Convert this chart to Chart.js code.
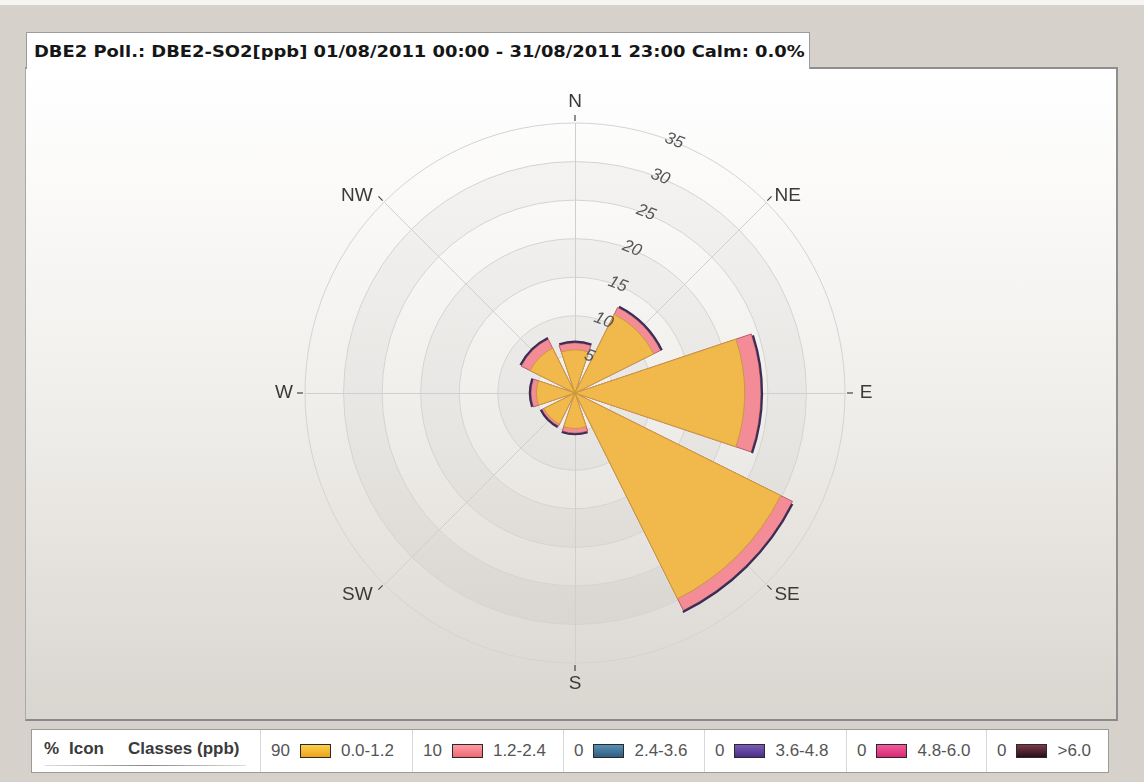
<!DOCTYPE html>
<html><head><meta charset="utf-8">
<script src="https://cdn.jsdelivr.net/npm/chart.js@4.4.0/dist/chart.umd.min.js"></script>
<style>
html,body{margin:0;padding:0;width:1144px;height:782px;overflow:hidden;background:#d6d2cb;font-family:"Liberation Sans",Arial,sans-serif;}
#topstrip{position:absolute;left:0;top:0;width:1144px;height:5px;background:#f6f5f3;}
#panel{position:absolute;left:25px;top:67px;width:1093px;height:654px;box-sizing:border-box;
 background:linear-gradient(#ffffff 0%,#fbfaf9 18%,#f1efec 50%,#e3e0db 80%,#d9d6d0 100%);
 border-top:2px solid #8e8e8e;border-right:2px solid #8e8e8e;border-bottom:2px solid #8a8a8a;border-left:1px solid #a8a8a8;}
#tab{position:absolute;left:26px;top:32px;width:784px;height:37px;box-sizing:border-box;background:#fff;border:1px solid #9c9c9c;border-bottom:none;}
#title{position:absolute;left:34px;top:42px;font:bold 16px "DejaVu Sans";white-space:nowrap;transform-origin:0 0;color:#161616;}
canvas{position:absolute;left:0;top:0;}
#legend{position:absolute;left:31px;top:729px;width:1078px;height:44px;box-sizing:border-box;background:#fff;border:1px solid #9a9a9a;}
.hdr{position:absolute;top:9px;font:bold 17px "Liberation Sans",Arial,sans-serif;color:#3a3a3a;white-space:nowrap;}
#hline{position:absolute;left:13px;top:35px;width:201px;height:1px;background:linear-gradient(90deg,#ddd,#888 50%,#ddd);}
.cell{position:absolute;top:0;height:42px;border-left:1px solid #d8d8d8;display:flex;align-items:center;box-sizing:border-box;padding-left:10px;gap:10px;font:17px "Liberation Sans",Arial,sans-serif;color:#555;white-space:nowrap;}
.icon{width:31px;height:14px;border:1px solid #2a2a2a;box-sizing:border-box;}
</style>
</head>
<body>
<div id="topstrip"></div>
<div id="panel"></div>
<div id="tab"></div>
<div id="title"></div>
<div id="legend"><span class="hdr" style="left:12px">%</span><span class="hdr" style="left:37px">Icon</span><span class="hdr" style="left:96px">Classes (ppb)</span><div id="hline"></div></div>
<canvas id="c" width="1144" height="782"></canvas>
<script>
// ---- data ----
const titleText = 'DBE2 Poll.: DBE2-SO2[ppb] 01/08/2011 00:00 - 31/08/2011 23:00 Calm: 0.0%';
const directions = ['N', 'NE', 'E', 'SE', 'S', 'SW', 'W', 'NW'];
const class_0_0_1_2 = [5.6, 11.4, 22.0, 29.8, 4.6, 4.5, 5.0, 6.5];
const class_1_2_2_4 = [0.9, 1.0, 2.1, 1.7, 0.6, 0.3, 0.7, 1.3];
const class_2_4_3_6 = [0, 0, 0, 0, 0, 0, 0, 0];
const class_3_6_4_8 = [0, 0, 0, 0, 0, 0, 0, 0];
const class_4_8_6_0 = [0, 0, 0, 0, 0, 0, 0, 0];
const class_gt_6_0 = [0, 0, 0, 0, 0, 0, 0, 0];
const classLabels = ['0.0-1.2', '1.2-2.4', '2.4-3.6', '3.6-4.8', '4.8-6.0', '>6.0'];
const classPercent = [90, 10, 0, 0, 0, 0];
const ringTicks = [0, 5, 10, 15, 20, 25, 30, 35];

// ---- styles ----
const classFill = ['#f1b84c', '#f38c96', '#3f7399', '#5b3f97', '#e83c87', '#4a1f2a'];
const classGrad = [['#fcd04a', '#eea21c'], ['#ff9aa2', '#ee6a76'], ['#5a8fb5', '#2f5f82'], ['#7a5ab8', '#4a2f86'], ['#f25a9c', '#d82a72'], ['#7a3a48', '#2a0f18']];
const classBorder = ['#c9993f', '#b85a66'];
const WEDGE = 37, GAP = 8;
const legendDividers = [259, 411, 562, 703, 845, 985, 1109];

// title
const t = document.getElementById('title');
t.textContent = titleText;
t.style.transform = 'scaleX(' + (771 / t.offsetWidth) + ')';

// legend
const lg = document.getElementById('legend');
classLabels.forEach((lab, i) => {
  const c = document.createElement('div');
  c.className = 'cell';
  c.style.left = (legendDividers[i] - 31) + 'px';
  c.style.width = (legendDividers[i + 1] - legendDividers[i]) + 'px';
  const p = document.createElement('span'); p.textContent = classPercent[i];
  const ic = document.createElement('span'); ic.className = 'icon';
  ic.style.background = 'linear-gradient(' + classGrad[i][0] + ',' + classGrad[i][1] + ')';
  const l = document.createElement('span'); l.textContent = lab;
  c.append(p, ic, l);
  lg.appendChild(c);
});

// cumulative stacks, one wedge + one gap slot per direction
const allClasses = [class_0_0_1_2, class_1_2_2_4, class_2_4_3_6, class_3_6_4_8, class_4_8_6_0, class_gt_6_0];
function cumulative(k) {
  return directions.map((d, i) => allClasses.slice(0, k + 1).reduce((s, a) => s + a[i], 0));
}
function slots(arr) { const out = []; arr.forEach(v => { out.push(v, 0); }); return out; }
const slotLabels = []; directions.forEach(d => slotLabels.push(d, ''));

const datasets = [0, 1].map(k => ({
  label: classLabels[k],
  data: slots(cumulative(k)),
  backgroundColor: classFill[k],
  borderColor: classBorder[k],
  borderWidth: c => (c.dataIndex % 2 ? 0 : 1),
  angle: c => (c.dataIndex % 2 ? GAP : WEDGE)
}));

const decor = {
  id: 'decor',
  beforeDraw(chart) {
    const s = chart.scales.r, ctx = chart.ctx;
    ctx.save();
    ctx.fillStyle = 'rgba(120,120,120,0.06)';
    [[5, 10], [15, 20], [25, 30]].forEach(([a, b]) => {
      ctx.beginPath();
      ctx.arc(s.xCenter, s.yCenter, s.getDistanceFromCenterForValue(b), 0, Math.PI * 2);
      ctx.arc(s.xCenter, s.yCenter, s.getDistanceFromCenterForValue(a), 0, Math.PI * 2, true);
      ctx.fill();
    });
    ctx.restore();
  },
  beforeDatasetsDraw(chart) {
    const s = chart.scales.r, ctx = chart.ctx, R = s.drawingArea;
    ctx.save();
    ctx.strokeStyle = '#cfcfcf'; ctx.lineWidth = 1;
    directions.forEach((d, i) => {
      const a = i * Math.PI / 4;
      ctx.beginPath();
      ctx.moveTo(s.xCenter + 0.5, s.yCenter + 0.5);
      ctx.lineTo(s.xCenter + 0.5 + R * Math.sin(a), s.yCenter + 0.5 - R * Math.cos(a));
      ctx.stroke();
    });
    ctx.restore();
  },
  afterDatasetsDraw(chart) {
    const s = chart.scales.r, ctx = chart.ctx, R = s.drawingArea;
    ctx.save();
    // dark outer rim of stacked wedges
    const meta = chart.getDatasetMeta(1);
    ctx.strokeStyle = '#3a2d55'; ctx.lineWidth = 2.2;
    meta.data.forEach((el, i) => {
      if (i % 2) return;
      const p = el.getProps(['x', 'y', 'startAngle', 'endAngle', 'outerRadius']);
      if (p.outerRadius <= 0) return;
      ctx.beginPath();
      ctx.arc(p.x, p.y, p.outerRadius + 1.1, p.startAngle + 0.01, p.endAngle + 0.005);
      ctx.stroke();
    });
    // ring value labels
    ctx.fillStyle = '#555'; ctx.font = 'italic 17px "Liberation Sans", Arial, sans-serif';
    ctx.textAlign = 'center'; ctx.textBaseline = 'middle';
    const th = 21.5 * Math.PI / 180;
    s.ticks.forEach(tk => {
      if (tk.value <= 0) return;
      const r = s.getDistanceFromCenterForValue(tk.value) + 1;
      ctx.save();
      ctx.translate(s.xCenter + r * Math.sin(th), s.yCenter - r * Math.cos(th));
      ctx.rotate(th);
      ctx.fillText(tk.label, 0, 0);
      ctx.restore();
    });
    // compass ticks and labels
    ctx.strokeStyle = '#444'; ctx.lineWidth = 1.2;
    ctx.fillStyle = '#3a3a3a'; ctx.font = '19px "Liberation Sans", Arial, sans-serif';
    directions.forEach((d, i) => {
      const a = i * Math.PI / 4, sn = Math.sin(a), cs = Math.cos(a);
      ctx.beginPath();
      ctx.moveTo(s.xCenter + (R + 2) * sn, s.yCenter - (R + 2) * cs);
      ctx.lineTo(s.xCenter + (R + 8) * sn, s.yCenter - (R + 8) * cs);
      ctx.stroke();
      if (i % 2 === 0) {
        ctx.textAlign = 'center';
        const rr = R + 21;
        ctx.fillText(d, s.xCenter + rr * sn, s.yCenter - rr * cs);
      } else {
        ctx.textAlign = sn > 0 ? 'left' : 'right';
        const rr = R + 12;
        ctx.fillText(d, s.xCenter + rr * sn + (sn > 0 ? 0 : -3), s.yCenter - rr * cs + 2);
      }
    });
    ctx.restore();
  }
};

new Chart(document.getElementById('c'), {
  type: 'polarArea',
  data: { labels: slotLabels, datasets },
  options: {
    responsive: false,
    animation: false,
    layout: { padding: { left: 305, right: 299, top: 123, bottom: 119 } },
    plugins: { legend: { display: false }, tooltip: { enabled: false } },
    scales: {
      r: {
        min: ringTicks[0], max: ringTicks[ringTicks.length - 1],
        startAngle: -WEDGE / 2,
        ticks: { stepSize: ringTicks[1] - ringTicks[0], display: false },
        grid: { circular: true, color: '#d3d3d3', lineWidth: 1 },
        angleLines: { display: false },
        pointLabels: { display: false }
      }
    }
  },
  plugins: [decor]
});
</script>
</body></html>
